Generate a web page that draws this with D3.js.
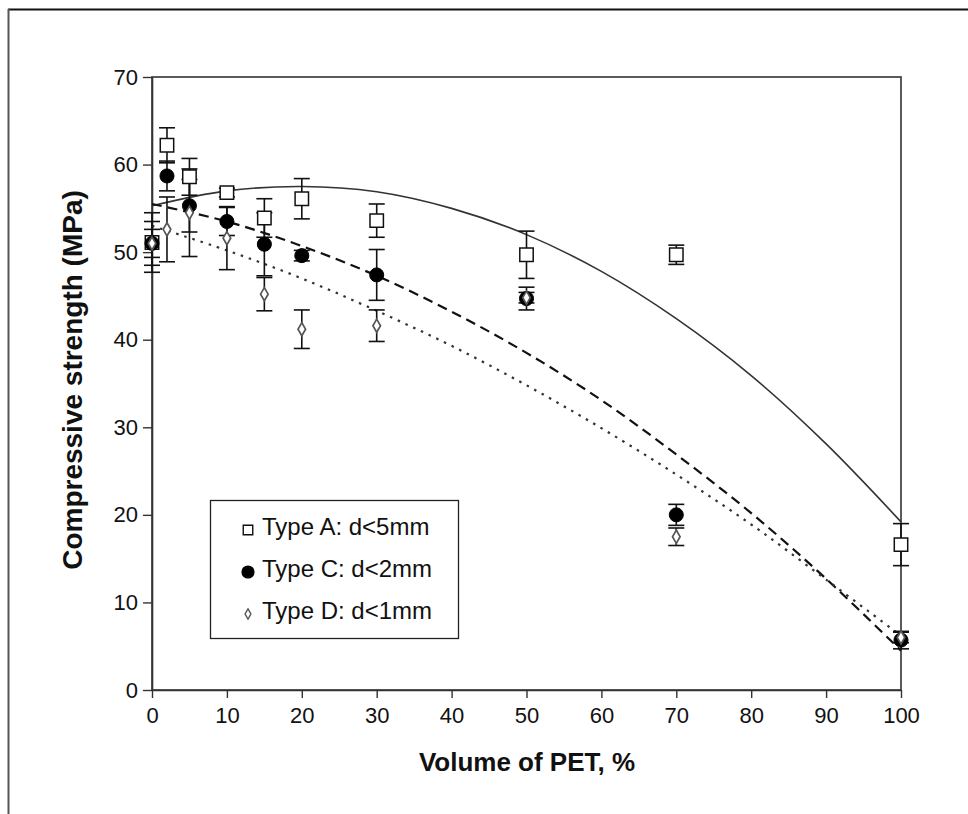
<!DOCTYPE html>
<html><head><meta charset="utf-8">
<script src="https://cdn.jsdelivr.net/npm/d3@7/dist/d3.min.js"></script>
<style>body{margin:0;background:#fff}svg{display:block}</style>
</head><body><svg id="c" width="968" height="814"></svg>
<script>
// ---- data ----
const xTicks = [0,10,20,30,40,50,60,70,80,90,100];
const yTicks = [0,10,20,30,40,50,60,70];
const pctPET = [0,2,5,10,15,20,30,50,70,100];
const typeA = [51.1,62.2,58.6,56.8,53.9,56.1,53.6,49.7,49.7,16.6];
const typeAErr = [3.4,2.0,2.1,0.5,2.2,2.3,1.9,2.7,1.1,2.4];
const typeC = [51.0,58.7,55.3,53.5,50.9,49.6,47.4,44.7,20.0,5.7];
const typeCErr = [1.6,1.7,3.0,1.6,3.6,0.6,2.9,1.3,1.2,1.0];
const typeD = [51.0,52.6,54.5,51.6,45.2,41.2,41.6,44.8,17.5,6.0];
const typeDErr = [2.5,3.7,5.0,3.6,1.9,2.2,1.8,0.6,1.0,0.6];
// fitted trend lines
const fitX = [0,10,20,30,40,50,60,70,80,90,100];
const fitA = [55.3,57.0,57.5,56.9,55.0,52.0,47.8,42.4,35.9,28.1,19.2];
const fitC = [55.5,53.5,50.7,47.3,43.2,38.5,33.1,26.9,20.2,12.7,4.5];
const fitD = [53.0,50.2,47.0,43.3,39.3,34.8,29.9,24.6,18.9,12.6,6.2];
const legendLabels = ["Type A: d<5mm","Type C: d<2mm","Type D: d<1mm"];

const svg = d3.select("#c");
const font = "'Liberation Sans', Arial, sans-serif";
const L=152, R=901, T=77, B=690;
const x = d3.scaleLinear().domain([0,100]).range([L,R]);
const y = d3.scaleLinear().domain([0,70]).range([B,T]);

// outer frame (top & left)
svg.append("line").attr("x1",8).attr("x2",968).attr("y1",9.5).attr("y2",9.5).attr("stroke","#111").attr("stroke-width",2);
svg.append("line").attr("x1",8.5).attr("x2",8.5).attr("y1",9).attr("y2",814).attr("stroke","#555").attr("stroke-width",2);

// plot box
svg.append("rect").attr("x",L).attr("y",T).attr("width",R-L).attr("height",B-T)
  .attr("fill","none").attr("stroke","#333").attr("stroke-width",1.6);

const yAxis = svg.append("g").attr("transform",`translate(${L},0)`)
  .call(d3.axisLeft(y).tickValues(yTicks).tickSize(9).tickSizeOuter(0).tickPadding(5));
const xAxis = svg.append("g").attr("transform",`translate(0,${B})`)
  .call(d3.axisBottom(x).tickValues(xTicks).tickSize(8).tickSizeOuter(0).tickPadding(9));
[yAxis,xAxis].forEach(g=>{
  g.attr("font-size",22).attr("font-family",font);
  g.select(".domain").attr("stroke","#333").attr("stroke-width",1.6);
  g.selectAll(".tick line").attr("stroke","#333").attr("stroke-width",1.4);
  g.selectAll(".tick text").style("font-size","22px").style("font-family",font).attr("fill","#111");
});

// titles
svg.append("text").attr("x",527).attr("y",771).attr("text-anchor","middle")
  .attr("font-family",font).attr("font-weight","bold").attr("font-size",26).attr("fill","#111")
  .text("Volume of PET, %");
svg.append("text").attr("transform","translate(82,380) rotate(-90)").attr("text-anchor","middle")
  .attr("font-family",font).attr("font-weight","bold").attr("font-size",28).attr("fill","#111")
  .text("Compressive strength (MPa)");

// fitted curves
const lineGen = d3.line().x(d=>x(d[0])).y(d=>y(d[1])).curve(d3.curveCatmullRom);
svg.append("path").datum(fitX.map((v,i)=>[v,fitA[i]])).attr("d",lineGen)
  .attr("fill","none").attr("stroke","#333").attr("stroke-width",1.6);
svg.append("path").datum(fitX.map((v,i)=>[v,fitC[i]])).attr("d",lineGen)
  .attr("fill","none").attr("stroke","#111").attr("stroke-width",2.2).attr("stroke-dasharray","10,6");
svg.append("path").datum(fitX.map((v,i)=>[v,fitD[i]])).attr("d",lineGen)
  .attr("fill","none").attr("stroke","#333").attr("stroke-width",2.2).attr("stroke-dasharray","2.5,6");

// error bars
function errBars(vals, errs){
  const g = svg.append("g").attr("stroke","#111").attr("stroke-width",1.6);
  pctPET.forEach((p,i)=>{
    const cx = x(p), y1 = y(vals[i]+errs[i]), y2 = y(vals[i]-errs[i]);
    g.append("line").attr("x1",cx).attr("x2",cx).attr("y1",y1).attr("y2",y2);
    g.append("line").attr("x1",cx-8).attr("x2",cx+8).attr("y1",y1).attr("y2",y1);
    g.append("line").attr("x1",cx-8).attr("x2",cx+8).attr("y1",y2).attr("y2",y2);
  });
}
errBars(typeA,typeAErr); errBars(typeC,typeCErr); errBars(typeD,typeDErr);

// markers
const sq = d3.symbol().type(d3.symbolSquare).size(180);
const ci = d3.symbol().type(d3.symbolCircle).size(155);
const di = d3.symbol().type(d3.symbolDiamond).size(50);
function markers(vals, sym, fill, stroke, sw){
  svg.append("g").selectAll("path").data(pctPET).join("path")
    .attr("transform",(p,i)=>`translate(${x(p)},${y(vals[i])})`)
    .attr("d",sym).attr("fill",fill).attr("stroke",stroke).attr("stroke-width",sw);
}
markers(typeA, sq, "#fff", "#111", 1.5);
markers(typeC, ci, "#000", "#000", 1);
markers(typeD, di, "#fff", "#555", 1.7);

// legend
const lg = svg.append("g");
lg.append("rect").attr("x",210.5).attr("y",500.5).attr("width",248).attr("height",138)
  .attr("fill","#fff").attr("stroke","#222").attr("stroke-width",1.3);
const legSyms = [d3.symbol().type(d3.symbolSquare).size(90), d3.symbol().type(d3.symbolCircle).size(110), d3.symbol().type(d3.symbolDiamond).size(30)];
const legFill = ["#fff","#000","#fff"], legStroke=["#111","#000","#555"];
legendLabels.forEach((t,i)=>{
  const cy = 527 + i*42;
  lg.append("path").attr("transform",`translate(248,${cy+3})`).attr("d",legSyms[i])
    .attr("fill",legFill[i]).attr("stroke",legStroke[i]).attr("stroke-width",1.4);
  lg.append("text").attr("x",262).attr("y",cy+8).attr("font-family",font).attr("font-size",24)
    .attr("fill","#111").text(t);
});
</script></body></html>
